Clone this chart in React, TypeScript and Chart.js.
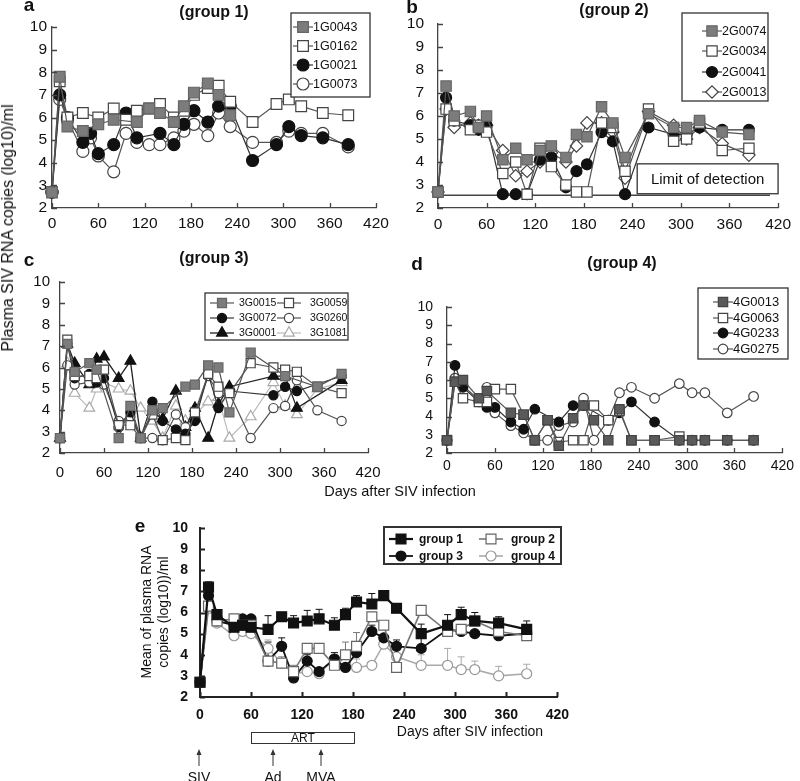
import React, { useEffect, useRef } from 'react';
import { Chart, registerables } from 'chart.js';

Chart.register(...registerables);

const FONT = "'Liberation Sans', Arial, Helvetica, sans-serif";

// ---------------- data ----------------
const DAYS = [0, 10, 20, 40, 50, 60, 80, 96, 110, 126, 140, 158, 171, 184, 202, 216, 231, 260, 291, 307, 323, 351, 384];
const X_TICKS = [0, 60, 120, 180, 240, 300, 360, 420];
const Y_TICKS = [2, 3, 4, 5, 6, 7, 8, 9, 10];
const X_MIN = 0;
const X_MAX = 420;
const Y_MIN = 2;
const Y_MAX = 10;

// panel a (group 1)
const A_1G0043 = [2.7, 7.8, 5.6, 5.4, null, 5.7, 5.9, null, 5.8, 6.4, 6.2, 5.8, 6.5, 7.1, 7.5, 7.0, 6.1, null, null, null, null, null, null];
const A_1G0162 = [2.7, 7.6, 6.0, 6.2, null, 6.0, 6.4, 5.9, 6.3, 6.4, 6.6, 6.0, 6.3, 7.0, 7.3, 7.4, 6.7, 5.8, 6.6, 6.8, 6.5, 6.2, 6.1];
const A_1G0021 = [2.7, 7.0, 6.0, 4.9, 5.3, 4.4, 4.8, 6.2, 5.1, null, 5.3, 4.8, 5.7, 6.3, 5.8, 6.5, 6.5, 4.1, 4.8, 5.6, 5.2, 5.1, 4.8];
const A_1G0073 = [2.7, 6.8, 5.9, 4.5, 5.1, 4.3, 3.6, 5.3, 4.9, 4.8, 4.8, 5.1, 5.4, 5.7, 5.2, 6.2, 5.6, 4.9, 4.9, 5.4, 5.3, 5.3, 4.7];

// panel b (group 2)
const B_2G0074 = [2.7, 7.3, 6.0, 6.2, 5.5, 6.0, 4.1, 4.6, 4.1, 4.5, 4.7, 4.2, 5.2, 5.1, 6.4, 5.7, 4.2, 6.1, 5.5, 5.5, 5.8, 5.3, 5.2];
const B_2G0034 = [2.7, 6.3, 5.8, 5.4, 5.6, 5.3, 3.5, 4.0, 2.6, 4.6, 3.8, 3.0, 2.7, 2.7, 5.7, 5.5, 3.6, 6.3, 4.9, 5.0, 5.7, 4.5, 4.6];
const B_2G0041 = [2.7, 6.8, 5.8, 5.6, 5.4, 5.6, 2.6, 2.6, 2.6, 4.1, 4.2, 2.9, 3.6, 3.9, 5.3, 4.9, 2.6, 5.5, 5.2, 5.2, 5.5, 5.4, 5.4];
const B_2G0013 = [2.7, 6.3, 5.5, 5.7, 5.6, 5.6, 4.5, 3.4, 3.6, 4.0, 4.4, 4.0, 4.7, 5.7, 5.7, 5.3, 3.3, 6.2, 5.6, 5.0, 5.5, 4.8, 4.3];
const LOD = 2.55;
const LOD_LINE_END = 410;
const LOD_BOX_DAYS = [246, 420];
const LOD_BOX_VALUES = [2.62, 3.92];
const LOD_TEXT = 'Limit of detection';

// panel c (group 3)
const C_3G0015 = [2.7, 7.1, 5.8, 6.2, 5.9, null, 2.7, 4.2, 2.7, 4.0, 4.1, null, 5.1, 5.2, 6.1, 6.0, 3.9, 6.7, null, 5.6, null, 5.1, 5.7];
const C_3G0059 = [2.7, 7.3, 5.6, 5.6, 5.5, 5.9, 3.3, 3.3, 2.7, 3.8, 2.6, 2.7, 2.6, 3.9, 5.7, 5.1, 4.8, 6.2, 6.0, 5.9, 5.8, 5.1, 4.8];
const C_3G0072 = [2.7, 7.1, 5.5, 5.7, 5.3, 5.5, 3.2, 3.9, 2.7, 4.4, 3.5, 3.1, 2.9, 3.5, 5.7, 4.1, 4.9, null, 4.7, 5.1, 4.9, null, 5.6];
const C_3G0260 = [2.7, 6.1, 5.2, 5.3, 5.5, 5.2, 3.5, 3.7, 2.7, 2.7, 2.6, 3.8, 3.2, 3.8, 5.6, 4.8, 4.8, 2.7, 4.1, 4.2, 5.4, 4.0, 3.5];
const C_3G0001 = [2.7, 7.1, 6.2, 5.2, 6.4, 6.5, 5.5, 6.3, 2.7, 3.9, 3.6, 4.9, 3.2, 4.1, 2.7, 4.3, 5.1, null, 5.6, 5.6, 4.1, null, 5.4];
const C_3G1081 = [2.7, 6.2, 4.8, 4.1, 5.0, 5.3, 5.0, 4.9, 4.1, 3.5, 2.7, 4.2, 3.5, 3.8, 4.4, 4.6, 2.7, 3.7, 5.3, 4.2, 3.8, 5.0, 5.3];

// panel d (group 4)
const D_4G0013 = [2.7, 5.9, 6.0, 5.0, 5.4, null, 4.2, 4.1, 2.7, 3.8, 2.4, 3.9, 4.6, 3.8, 2.7, 4.4, 2.7, 2.7, 2.7, 2.7, 2.7, 2.7, 2.7];
const D_4G0063 = [2.7, 5.9, 5.0, 4.8, 4.8, 5.5, 5.5, 4.1, 2.7, 3.8, 2.6, 2.7, 2.7, 4.6, 3.8, 4.3, 2.7, 2.7, 2.9, null, null, null, null];
const D_4G0233 = [2.7, 6.8, 5.6, 4.8, 4.5, 4.5, 3.7, 3.3, 4.4, null, 3.7, 4.6, 4.6, null, 3.8, 4.2, 4.8, 3.7, 2.7, 2.7, 2.7, 2.7, 2.7];
const D_4G0275 = [2.7, 6.1, 5.7, 4.9, 5.6, 4.2, 3.5, 3.1, 2.7, 2.7, 3.5, 3.7, 5.0, 2.7, 3.8, 5.3, 5.6, 5.0, 5.8, 5.3, 5.3, 4.2, 5.1];

// panel e (means + SD)
const E_G1 = [2.7, 7.2, 5.9, 5.3, 5.4, 5.3, 5.2, 5.8, 5.5, 5.6, 5.7, 5.4, 5.9, 6.5, 6.4, 6.8, 6.2, 5.0, 5.4, 5.9, 5.6, 5.5, 5.2];
const E_G2 = [2.7, 6.3, 5.6, 5.7, 5.4, 5.4, 3.7, 3.6, 3.2, 4.3, 4.3, 3.5, 4.0, 4.4, 5.8, 5.4, 3.4, 6.1, 5.1, 5.2, 5.6, 5.1, 4.9];
const E_G3 = [2.7, 6.8, 5.6, 5.4, 5.7, 5.7, 3.7, 4.4, 2.9, 3.7, 3.2, 3.8, 3.4, 4.1, 5.1, 4.8, 4.4, 4.3, 5.2, 5.1, 5.0, 4.9, 5.0];
const E_G4 = [2.7, 6.2, 5.5, 4.9, 5.1, 5.0, 4.3, 3.6, 3.1, 3.2, 3.1, 3.8, 3.6, 3.4, 3.5, 4.5, 3.9, 3.5, 3.5, 3.3, 3.3, 3.0, 3.1];
const E_G1_SD = [null, 0.25, null, null, null, null, 0.65, null, 0.35, 0.5, 0.45, 0.35, 0.3, 0.3, 0.5, 0.2, 0.2, 0.45, 0.5, 0.35, 0.4, 0.3, 0.4];
const E_G2_SD = [null, null, null, null, null, null, null, 0.3, 0.3, null, null, 0.4, 0.6, 0.65, null, null, 0.4, null, null, null, null, null, null];
const E_G3_SD = [null, null, null, null, null, null, 0.9, 0.4, null, 0.3, null, 0.3, null, null, 0.3, null, 0.3, 0.6, null, null, null, null, null];
const E_G4_SD = [null, null, null, null, null, null, 0.4, null, 0.3, null, null, null, null, 0.4, null, null, null, 0.5, 0.8, 0.6, 0.4, 0.45, 0.45];

// ---------------- types & helpers ----------------
type Marker = 'sqFill' | 'sqOpen' | 'cFill' | 'cOpen' | 'diamond' | 'triFill' | 'triOpen';
interface Series { label: string; values: (number | null)[]; marker: Marker; line: string; lw: number; mk: string; fill?: string; sd?: (number | null)[]; }
interface Rect { x: number; y: number; w: number; h: number; }
interface Area { l: number; t: number; r: number; b: number; }
interface LegItem { s: number; x: number; y: number; half: number; tx: number; }
interface Panel {
  cv: Rect; area: Area; series: Series[];
  radii: { rect: number; circle: number; tri: number; diamond: number };
  tickFont: { size: number; weight: string };
  yPad: number; xPad: number; axisColor: string; axisWidth: number;
  legend: { box: [number, number, number, number]; font: string; border: number; items: LegItem[] };
  lod?: boolean;
}

function pointStyleOf(m: Marker): string {
  if (m === 'sqFill' || m === 'sqOpen') return 'rect';
  if (m === 'cFill' || m === 'cOpen') return 'circle';
  if (m === 'diamond') return 'rectRot';
  return 'triangle';
}
function radiusOf(m: Marker, p: Panel): number {
  const s = pointStyleOf(m);
  if (s === 'rect') return p.radii.rect;
  if (s === 'circle') return p.radii.circle;
  if (s === 'rectRot') return p.radii.diamond;
  return p.radii.tri;
}
function fillOf(sr: Series): string {
  if (sr.marker === 'sqFill' || sr.marker === 'cFill' || sr.marker === 'triFill') return sr.fill || sr.mk;
  return '#ffffff';
}

function drawMarker(ctx: CanvasRenderingContext2D, style: string, x: number, y: number, r: number, bg: string, bc: string, bw: number) {
  ctx.beginPath();
  if (style === 'rect') {
    const s = Math.SQRT1_2 * r;
    ctx.rect(x - s, y - s, 2 * s, 2 * s);
  } else if (style === 'circle') {
    ctx.arc(x, y, r, 0, Math.PI * 2);
  } else if (style === 'rectRot') {
    ctx.moveTo(x - r, y); ctx.lineTo(x, y - r); ctx.lineTo(x + r, y); ctx.lineTo(x, y + r); ctx.closePath();
  } else {
    let rad = 0;
    ctx.moveTo(x + Math.sin(rad) * r, y - Math.cos(rad) * r);
    rad += (2 * Math.PI) / 3;
    ctx.lineTo(x + Math.sin(rad) * r, y - Math.cos(rad) * r);
    rad += (2 * Math.PI) / 3;
    ctx.lineTo(x + Math.sin(rad) * r, y - Math.cos(rad) * r);
    ctx.closePath();
  }
  ctx.fillStyle = bg; ctx.fill();
  ctx.strokeStyle = bc; ctx.lineWidth = bw; ctx.stroke();
}

function buildChart(canvas: HTMLCanvasElement, p: Panel): Chart {
  const ox = p.cv.x, oy = p.cv.y;
  const datasets = p.series.map((sr) => ({
    label: sr.label,
    data: DAYS.map((d, i) => ({ x: d, y: sr.values[i] })),
    borderColor: sr.line,
    borderWidth: sr.lw,
    backgroundColor: fillOf(sr),
    pointStyle: pointStyleOf(sr.marker),
    pointRadius: radiusOf(sr.marker, p),
    pointBackgroundColor: fillOf(sr),
    pointBorderColor: sr.mk,
    pointBorderWidth: 1.2,
    tension: 0,
    spanGaps: true,
    clip: false as any,
  }));

  const inTicks = {
    id: 'inTicks',
    afterDraw(chart: any) {
      const ctx = chart.ctx as CanvasRenderingContext2D;
      const { left, bottom } = chart.chartArea;
      const xs = chart.scales.x, ys = chart.scales.y;
      ctx.save();
      ctx.strokeStyle = p.axisColor; ctx.lineWidth = p.axisWidth;
      ctx.beginPath();
      xs.ticks.forEach((t: any) => { const px = Math.round(xs.getPixelForValue(t.value)) + 0.5; ctx.moveTo(px, bottom); ctx.lineTo(px, bottom - 5); });
      ys.ticks.forEach((t: any) => { const py = Math.round(ys.getPixelForValue(t.value)) + 0.5; ctx.moveTo(left, py); ctx.lineTo(left + 5, py); });
      ctx.stroke();
      ctx.restore();
    },
  };

  const errBars = {
    id: 'errBars',
    beforeDatasetsDraw(chart: any) {
      const ctx = chart.ctx as CanvasRenderingContext2D;
      const xs = chart.scales.x, ys = chart.scales.y;
      ctx.save();
      p.series.forEach((sr) => {
        if (!sr.sd) return;
        ctx.strokeStyle = sr.line; ctx.lineWidth = 1;
        sr.values.forEach((v, i) => {
          const e = sr.sd![i];
          if (e == null || v == null) return;
          const px = xs.getPixelForValue(DAYS[i]);
          const y0 = ys.getPixelForValue(v), y1 = ys.getPixelForValue(v + e);
          ctx.beginPath();
          ctx.moveTo(px, y0); ctx.lineTo(px, y1);
          ctx.moveTo(px - 3.5, y1); ctx.lineTo(px + 3.5, y1);
          ctx.stroke();
        });
      });
      ctx.restore();
    },
  };

  const lodPlugin = {
    id: 'lodPlugin',
    beforeDatasetsDraw(chart: any) {
      if (!p.lod) return;
      const ctx = chart.ctx as CanvasRenderingContext2D;
      const xs = chart.scales.x, ys = chart.scales.y;
      ctx.save();
      ctx.strokeStyle = '#444'; ctx.lineWidth = 1.5;
      const ly = ys.getPixelForValue(LOD);
      ctx.beginPath(); ctx.moveTo(xs.getPixelForValue(X_MIN), ly); ctx.lineTo(xs.getPixelForValue(LOD_LINE_END), ly); ctx.stroke();
      ctx.restore();
    },
    afterDatasetsDraw(chart: any) {
      if (!p.lod) return;
      const ctx = chart.ctx as CanvasRenderingContext2D;
      const xs = chart.scales.x, ys = chart.scales.y;
      const x0 = xs.getPixelForValue(LOD_BOX_DAYS[0]), x1 = xs.getPixelForValue(LOD_BOX_DAYS[1]);
      const y0 = ys.getPixelForValue(LOD_BOX_VALUES[1]), y1 = ys.getPixelForValue(LOD_BOX_VALUES[0]);
      ctx.save();
      ctx.fillStyle = '#fff'; ctx.fillRect(x0, y0, x1 - x0, y1 - y0);
      ctx.strokeStyle = '#333'; ctx.lineWidth = 1.3; ctx.strokeRect(x0, y0, x1 - x0, y1 - y0);
      ctx.fillStyle = '#111'; ctx.font = `15px ${FONT}`; ctx.textAlign = 'center'; ctx.textBaseline = 'middle';
      ctx.fillText(LOD_TEXT, (x0 + x1) / 2, (y0 + y1) / 2 + 1);
      ctx.restore();
    },
  };

  const boxLegend = {
    id: 'boxLegend',
    afterDraw(chart: any) {
      const ctx = chart.ctx as CanvasRenderingContext2D;
      const L = p.legend;
      const [bx0, by0, bx1, by1] = L.box;
      ctx.save();
      ctx.fillStyle = '#fff';
      ctx.fillRect(bx0 - ox, by0 - oy, bx1 - bx0, by1 - by0);
      ctx.strokeStyle = '#333'; ctx.lineWidth = L.border;
      ctx.strokeRect(bx0 - ox, by0 - oy, bx1 - bx0, by1 - by0);
      L.items.forEach((it) => {
        const sr = p.series[it.s];
        const x = it.x - ox, y = it.y - oy;
        ctx.strokeStyle = sr.line; ctx.lineWidth = sr.lw;
        ctx.beginPath(); ctx.moveTo(x - it.half, y); ctx.lineTo(x + it.half, y); ctx.stroke();
        drawMarker(ctx, pointStyleOf(sr.marker), x, y, radiusOf(sr.marker, p), fillOf(sr), sr.mk, 1.2);
        ctx.fillStyle = '#111'; ctx.font = L.font; ctx.textAlign = 'left'; ctx.textBaseline = 'middle';
        ctx.fillText(sr.label, it.tx - ox, y + 0.5);
      });
      ctx.restore();
    },
  };

  const tickFont = { family: FONT, size: p.tickFont.size, weight: p.tickFont.weight as any, lineHeight: 1 };
  return new Chart(canvas, {
    type: 'line',
    data: { datasets: datasets as any },
    plugins: [inTicks, errBars, lodPlugin, boxLegend],
    options: {
      responsive: false,
      animation: false,
      devicePixelRatio: 1,
      events: [],
      layout: { padding: { left: 0, top: p.area.t - oy, right: ox + p.cv.w - p.area.r, bottom: 0 } },
      plugins: { legend: { display: false }, tooltip: { enabled: false }, title: { display: false } },
      scales: {
        x: {
          type: 'linear', min: X_MIN, max: X_MAX,
          afterBuildTicks: (s: any) => { s.ticks = X_TICKS.map((v) => ({ value: v })); },
          afterFit: (s: any) => { s.height = oy + p.cv.h - p.area.b; },
          ticks: { autoSkip: false, autoSkipPadding: 0, maxRotation: 0, padding: p.xPad + 1, color: '#111', font: tickFont },
          grid: { display: false, drawTicks: false },
          border: { display: true, color: p.axisColor, width: p.axisWidth },
        },
        y: {
          type: 'linear', min: Y_MIN, max: Y_MAX,
          afterBuildTicks: (s: any) => { s.ticks = Y_TICKS.map((v) => ({ value: v })); },
          afterFit: (s: any) => { s.width = p.area.l - ox; },
          ticks: { autoSkip: false, autoSkipPadding: 0, padding: p.yPad, color: '#111', font: tickFont },
          grid: { display: false, drawTicks: false },
          border: { display: true, color: p.axisColor, width: p.axisWidth },
        },
      },
    } as any,
  });
}

// ---------------- panel definitions ----------------
const GRAY_LINE = '#555';
const PANELS: Panel[] = [
  {
    cv: { x: 0, y: 0, w: 400, h: 245 }, area: { l: 52, t: 27, r: 376, b: 208 },
    series: [
      { label: '1G0043', values: A_1G0043, marker: 'sqFill', line: GRAY_LINE, lw: 1.2, mk: '#666', fill: '#7c7c7c' },
      { label: '1G0162', values: A_1G0162, marker: 'sqOpen', line: GRAY_LINE, lw: 1.2, mk: '#444' },
      { label: '1G0021', values: A_1G0021, marker: 'cFill', line: '#333', lw: 1.2, mk: '#111' },
      { label: '1G0073', values: A_1G0073, marker: 'cOpen', line: GRAY_LINE, lw: 1.2, mk: '#444' },
    ],
    radii: { rect: 7.6, circle: 6, tri: 6, diamond: 6 },
    tickFont: { size: 15.5, weight: 'normal' }, yPad: 5, xPad: 7, axisColor: '#444', axisWidth: 1.3,
    legend: {
      box: [291, 13, 370, 97], font: `12.5px ${FONT}`, border: 1.3,
      items: [
        { s: 0, x: 303, y: 27, half: 10, tx: 313 },
        { s: 1, x: 303, y: 46, half: 10, tx: 313 },
        { s: 2, x: 303, y: 65, half: 10, tx: 313 },
        { s: 3, x: 303, y: 84, half: 10, tx: 313 },
      ],
    },
  },
  {
    cv: { x: 400, y: 0, w: 400, h: 245 }, area: { l: 438, t: 24, r: 780, b: 208 },
    series: [
      { label: '2G0074', values: B_2G0074, marker: 'sqFill', line: GRAY_LINE, lw: 1.2, mk: '#666', fill: '#7c7c7c' },
      { label: '2G0034', values: B_2G0034, marker: 'sqOpen', line: GRAY_LINE, lw: 1.2, mk: '#444' },
      { label: '2G0041', values: B_2G0041, marker: 'cFill', line: '#333', lw: 1.2, mk: '#111' },
      { label: '2G0013', values: B_2G0013, marker: 'diamond', line: GRAY_LINE, lw: 1.2, mk: '#444' },
    ],
    radii: { rect: 7.3, circle: 5.5, tri: 6, diamond: 6.2 },
    tickFont: { size: 15.5, weight: 'normal' }, yPad: 14, xPad: 8, axisColor: '#444', axisWidth: 1.3,
    legend: {
      box: [682, 13, 768, 101], font: `12.5px ${FONT}`, border: 1.3,
      items: [
        { s: 0, x: 712, y: 31, half: 10, tx: 722 },
        { s: 1, x: 712, y: 51, half: 10, tx: 722 },
        { s: 2, x: 712, y: 72, half: 10, tx: 722 },
        { s: 3, x: 712, y: 92, half: 10, tx: 722 },
      ],
    },
    lod: true,
  },
  {
    cv: { x: 0, y: 245, w: 400, h: 240 }, area: { l: 60, t: 282, r: 368, b: 453 },
    series: [
      { label: '3G0015', values: C_3G0015, marker: 'sqFill', line: GRAY_LINE, lw: 1.2, mk: '#666', fill: '#7c7c7c' },
      { label: '3G0059', values: C_3G0059, marker: 'sqOpen', line: GRAY_LINE, lw: 1.2, mk: '#444' },
      { label: '3G0072', values: C_3G0072, marker: 'cFill', line: '#333', lw: 1.2, mk: '#111' },
      { label: '3G0260', values: C_3G0260, marker: 'cOpen', line: GRAY_LINE, lw: 1.2, mk: '#444' },
      { label: '3G0001', values: C_3G0001, marker: 'triFill', line: '#222', lw: 1.3, mk: '#111' },
      { label: '3G1081', values: C_3G1081, marker: 'triOpen', line: '#bbb', lw: 1.2, mk: '#aaa' },
    ],
    radii: { rect: 6.4, circle: 4.6, tri: 6.2, diamond: 5 },
    tickFont: { size: 15, weight: 'normal' }, yPad: 10, xPad: 11, axisColor: '#444', axisWidth: 1.3,
    legend: {
      box: [205, 293, 348, 340], font: `10.5px ${FONT}`, border: 1.3,
      items: [
        { s: 0, x: 222, y: 303, half: 12, tx: 239 },
        { s: 2, x: 222, y: 318, half: 12, tx: 239 },
        { s: 4, x: 222, y: 333, half: 12, tx: 239 },
        { s: 1, x: 289, y: 303, half: 12, tx: 310 },
        { s: 3, x: 289, y: 318, half: 12, tx: 310 },
        { s: 5, x: 289, y: 333, half: 12, tx: 310 },
      ],
    },
  },
  {
    cv: { x: 400, y: 245, w: 400, h: 240 }, area: { l: 447, t: 307, r: 789, b: 453 },
    series: [
      { label: '4G0013', values: D_4G0013, marker: 'sqFill', line: GRAY_LINE, lw: 1.2, mk: '#444', fill: '#5a5a5a' },
      { label: '4G0063', values: D_4G0063, marker: 'sqOpen', line: GRAY_LINE, lw: 1.2, mk: '#444' },
      { label: '4G0233', values: D_4G0233, marker: 'cFill', line: '#333', lw: 1.2, mk: '#111' },
      { label: '4G0275', values: D_4G0275, marker: 'cOpen', line: GRAY_LINE, lw: 1.2, mk: '#444' },
    ],
    radii: { rect: 6.6, circle: 4.8, tri: 6, diamond: 5 },
    tickFont: { size: 14, weight: 'normal' }, yPad: 14, xPad: 5, axisColor: '#444', axisWidth: 1.3,
    legend: {
      box: [698, 288, 788, 359], font: `13px ${FONT}`, border: 1.3,
      items: [
        { s: 0, x: 723, y: 302, half: 10, tx: 733 },
        { s: 1, x: 723, y: 318, half: 10, tx: 733 },
        { s: 2, x: 723, y: 333, half: 10, tx: 733 },
        { s: 3, x: 723, y: 349, half: 10, tx: 733 },
      ],
    },
  },
  {
    cv: { x: 130, y: 505, w: 450, h: 225 }, area: { l: 200, t: 528, r: 567, b: 697 },
    series: [
      { label: 'group 1', values: E_G1, marker: 'sqFill', line: '#111', lw: 2.2, mk: '#111', fill: '#111', sd: E_G1_SD },
      { label: 'group 2', values: E_G2, marker: 'sqOpen', line: '#777', lw: 1.6, mk: '#666', sd: E_G2_SD },
      { label: 'group 3', values: E_G3, marker: 'cFill', line: '#111', lw: 1.8, mk: '#111', fill: '#111', sd: E_G3_SD },
      { label: 'group 4', values: E_G4, marker: 'cOpen', line: '#aaa', lw: 1.6, mk: '#999', sd: E_G4_SD },
    ],
    radii: { rect: 7, circle: 5, tri: 6, diamond: 5 },
    tickFont: { size: 14, weight: 'bold' }, yPad: 12, xPad: 10, axisColor: '#222', axisWidth: 2,
    legend: {
      box: [384, 527, 561, 564], font: `bold 12px ${FONT}`, border: 2,
      items: [
        { s: 0, x: 401, y: 539, half: 12, tx: 419 },
        { s: 2, x: 401, y: 556, half: 12, tx: 419 },
        { s: 1, x: 491, y: 539, half: 12, tx: 511 },
        { s: 3, x: 491, y: 556, half: 12, tx: 511 },
      ],
    },
  },
];

function ChartPanel({ p }: { p: Panel }) {
  const ref = useRef<HTMLCanvasElement>(null);
  useEffect(() => {
    const chart = buildChart(ref.current!, p);
    return () => chart.destroy();
  }, []);
  return (
    <canvas
      ref={ref}
      width={p.cv.w}
      height={p.cv.h}
      style={{ position: 'absolute', left: p.cv.x, top: p.cv.y, width: p.cv.w, height: p.cv.h }}
    />
  );
}

function T({ cx, cy, size, bold, children, rotate }: { cx: number; cy: number; size: number; bold?: boolean; children: React.ReactNode; rotate?: boolean }) {
  return (
    <div
      style={{
        position: 'absolute', left: cx, top: cy, whiteSpace: 'nowrap', fontFamily: FONT, fontSize: size,
        fontWeight: bold ? 'bold' : 'normal', lineHeight: 1, color: '#111',
        transform: `translate(-50%, -50%)${rotate ? ' rotate(-90deg)' : ''}`,
      }}
    >
      {children}
    </div>
  );
}

const ARROWS = [
  { x: 199, label: 'SIV' },
  { x: 273, label: 'Ad' },
  { x: 321, label: 'MVA' },
];

export default function App() {
  return (
    <div style={{ position: 'absolute', left: 0, top: 0, width: 800, height: 781, background: '#fff', overflow: 'hidden' }}>
      {PANELS.map((p, i) => <ChartPanel key={i} p={p} />)}

      <T cx={29} cy={4} size={19} bold>a</T>
      <T cx={214} cy={12} size={16} bold>(group 1)</T>
      <T cx={412} cy={6} size={19} bold>b</T>
      <T cx={614} cy={10} size={16} bold>(group 2)</T>
      <T cx={29} cy={259} size={19} bold>c</T>
      <T cx={214} cy={258} size={16} bold>(group 3)</T>
      <T cx={417} cy={263} size={19} bold>d</T>
      <T cx={622} cy={263} size={16} bold>(group 4)</T>

      <T cx={8} cy={228} size={16} rotate>Plasma SIV RNA copies (log10)/ml</T>
      <T cx={400} cy={491} size={14.5}>Days after SIV infection</T>

      <T cx={140} cy={525} size={19} bold>e</T>
      <T cx={146} cy={612} size={14} rotate>Mean of plasma RNA</T>
      <T cx={163} cy={612} size={14} rotate>copies (log10))/ml</T>
      <T cx={470} cy={731} size={14}>Days after SIV infection</T>

      <div style={{ position: 'absolute', left: 251, top: 732, width: 104, height: 12, border: '1.5px solid #333', boxSizing: 'border-box', fontFamily: FONT, fontSize: 12, lineHeight: '10px', textAlign: 'center', color: '#111' }}>ART</div>

      <svg style={{ position: 'absolute', left: 0, top: 745, width: 800, height: 25 }} width={800} height={25}>
        {ARROWS.map((a) => (
          <g key={a.label}>
            <line x1={a.x} y1={7} x2={a.x} y2={21} stroke="#333" strokeWidth={1} />
            <polygon points={`${a.x - 2.5},${10} ${a.x + 2.5},${10} ${a.x},${4}`} fill="#333" />
          </g>
        ))}
      </svg>
      {ARROWS.map((a) => (
        <T key={a.label} cx={a.x} cy={777} size={14}>{a.label}</T>
      ))}
    </div>
  );
}
